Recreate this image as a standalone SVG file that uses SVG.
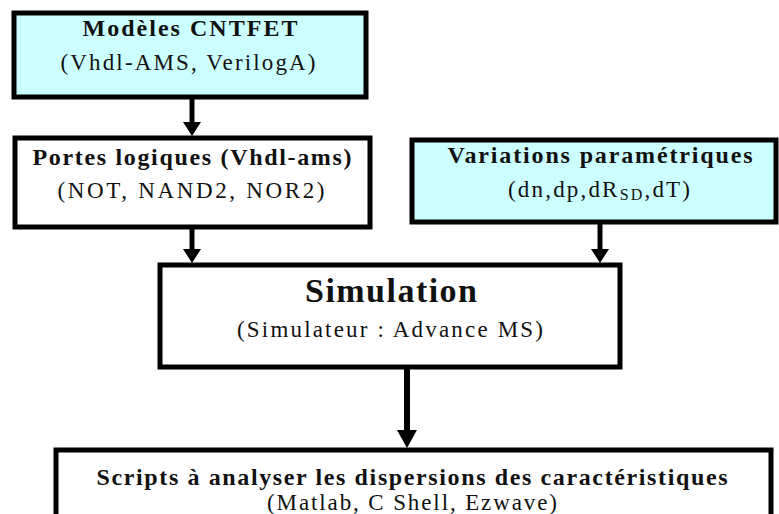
<svg xmlns="http://www.w3.org/2000/svg" width="779" height="514" viewBox="0 0 779 514">
<style>
.box{stroke:#000;stroke-width:5;}
.cyan{fill:#ccffff;}
.white{fill:#fff;}
.t{font-family:"Liberation Serif","Times New Roman",serif;fill:#111;text-anchor:middle;}
.b{font-weight:bold;font-size:24px;}
.r{font-size:23px;}
.big{font-weight:bold;font-size:34px;}
.conn{stroke:#000;stroke-width:5;fill:none;}
.head{fill:#000;}
</style>
<rect width="779" height="514" fill="#fff"/>
<g id="modeles">
<rect class="box cyan" x="14" y="13" width="352" height="84"/>
<text class="t b" x="190" y="36" textLength="215">Modèles CNTFET</text>
<text class="t r" x="188" y="70" textLength="255">(Vhdl-AMS, VerilogA)</text>
</g>
<g id="portes">
<rect class="box white" x="15" y="138" width="355" height="89"/>
<text class="t b" x="192" y="165" textLength="319">Portes logiques (Vhdl-ams)</text>
<text class="t r" x="191" y="198" textLength="267">(NOT, NAND2, NOR2)</text>
</g>
<g id="variations">
<rect class="box cyan" x="412" y="140" width="364" height="82"/>
<text class="t b" x="600" y="163" textLength="305">Variations paramétriques</text>
<text class="t r" x="599" y="197" textLength="182">(dn,dp,dR<tspan font-size="16" dy="3">SD</tspan><tspan dy="-3">,dT)</tspan></text>
</g>
<g id="simulation">
<rect class="box white" x="160" y="265" width="460" height="102"/>
<text class="t big" x="391" y="302" textLength="172">Simulation</text>
<text class="t r" x="390" y="337" textLength="306">(Simulateur : Advance MS)</text>
</g>
<g id="scripts">
<rect class="box white" x="56" y="450" width="715" height="90"/>
<text class="t b" x="412" y="485" textLength="631">Scripts à analyser les dispersions des caractéristiques</text>
<text class="t r" x="412" y="510" textLength="290">(Matlab, C Shell, Ezwave)</text>
</g>
<g id="connectors">
<line class="conn" x1="192" y1="99" x2="192" y2="124"/>
<polygon class="head" points="183,122 201,122 192,136"/>
<line class="conn" x1="192" y1="229" x2="192" y2="251"/>
<polygon class="head" points="183,249 201,249 192,263"/>
<line class="conn" x1="600" y1="224" x2="600" y2="251"/>
<polygon class="head" points="591,249 609,249 600,263"/>
<line class="conn" x1="407" y1="369" x2="407" y2="432" style="stroke-width:6"/>
<polygon class="head" points="397,430 417,430 407,448"/>
</g>
</svg>
